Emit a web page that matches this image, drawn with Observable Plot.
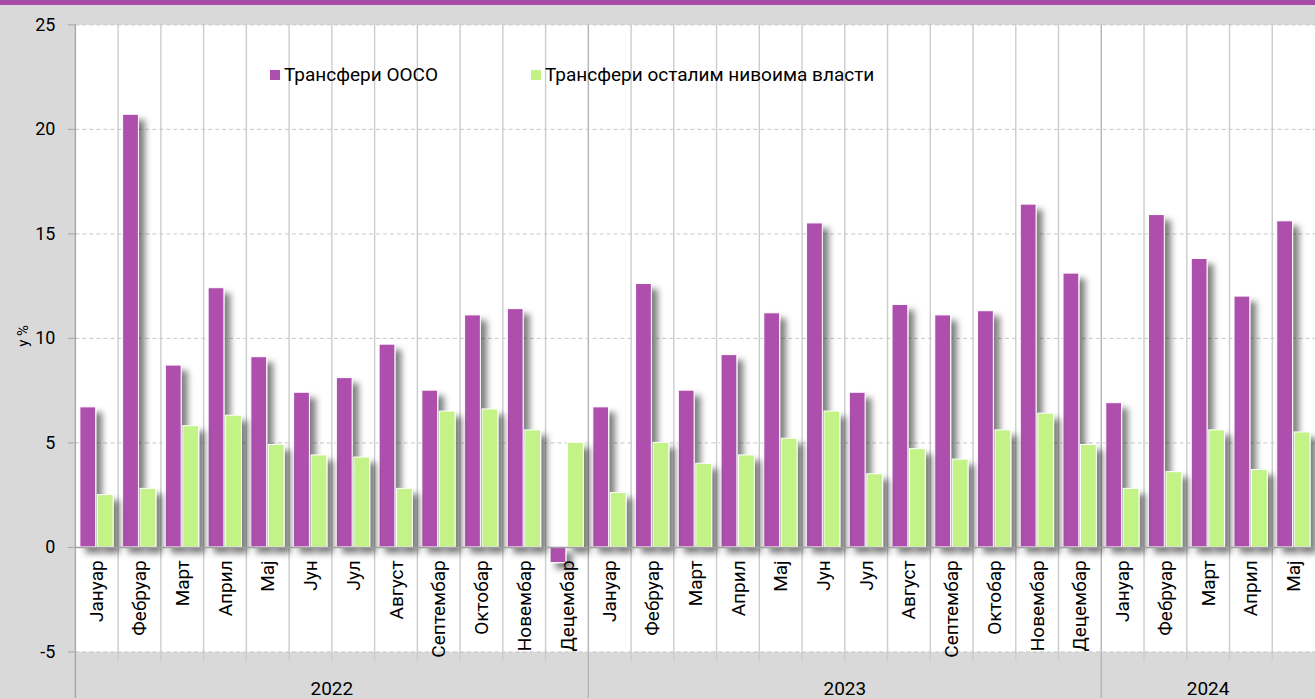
<!DOCTYPE html>
<html>
<head>
<meta charset="utf-8">
<script src="https://cdn.jsdelivr.net/npm/d3@7"></script>
<script src="https://cdn.jsdelivr.net/npm/@observablehq/plot@0.6"></script>
<style>
  html, body { margin: 0; padding: 0; background: #d9d9d9; overflow: hidden; width: 1315px; height: 699px; }
  #wrap { position: relative; width: 1315px; height: 699px; overflow: hidden; }
  #topband { position: absolute; left: 0; top: 0; width: 1315px; height: 5px; background: #a64ca6; z-index: 3; }
  #chart { position: absolute; left: 0; top: 0; }
  .legend { position: absolute; top: 63px; font-family: Roboto, sans-serif; font-size: 19px; color: #000; display: flex; align-items: center; white-space: nowrap; z-index: 2; }
  .legend .sw { width: 10px; height: 10px; margin-right: 4px; display: inline-block; }
  svg g[aria-label^="y-axis"] line, svg g[aria-label="y-axis tick"] path { stroke: #a6a6a6; }
</style>
</head>
<body>
<div id="wrap">
  <div id="topband"></div>
  <div id="chart"></div>
  <div class="legend" style="left:270px"><span class="sw" style="background:#ae4fae"></span><span id="lg1"></span></div>
  <div class="legend" style="left:531px"><span class="sw" style="background:#c3f386"></span><span id="lg2"></span></div>
</div>
<script>
// ---- data ----
const monthNames = ["Јануар","Фебруар","Март","Април","Мај","Јун","Јул","Август","Септембар","Октобар","Новембар","Децембар"];
const years = [2022, 2023, 2024];
const monthsPerYear = [12, 12, 5];
const seriesNames = ["Трансфери ООСО", "Трансфери осталим нивоима власти"];
const transfersOOSO = [6.7, 20.7, 8.7, 12.4, 9.1, 7.4, 8.1, 9.7, 7.5, 11.1, 11.4, -0.75,
                       6.7, 12.6, 7.5, 9.2, 11.2, 15.5, 7.4, 11.6, 11.1, 11.3, 16.4, 13.1,
                       6.9, 15.9, 13.8, 12.0, 15.6];
const transfersOther = [2.5, 2.8, 5.8, 6.3, 4.9, 4.4, 4.3, 2.8, 6.5, 6.6, 5.6, 5.0,
                        2.6, 5.0, 4.0, 4.4, 5.2, 6.5, 3.5, 4.7, 4.2, 5.6, 6.4, 4.9,
                        2.8, 3.6, 5.6, 3.7, 5.5];
const yTicks = [-5, 0, 5, 10, 15, 20, 25];
const gridTicks = [-5, 5, 10, 15, 20, 25];
const yLabel = "у %";

// ---- table ----
const rows = [];
years.forEach((yr, yi) => {
  for (let m = 0; m < monthsPerYear[yi]; m++) {
    const i = rows.length;
    rows.push({key: `${yr}-${String(m + 1).padStart(2, "0")}`, year: yr, month: monthNames[m],
               ooso: transfersOOSO[i], other: transfersOther[i]});
  }
});
const keys = rows.map(d => d.key);

document.getElementById("lg1").textContent = seriesNames[0];
document.getElementById("lg2").textContent = seriesNames[1];

const W = 1317, H = 699;
const chart = Plot.plot({
  width: W, height: H,
  marginLeft: 75.5, marginRight: 0, marginTop: 24.4, marginBottom: 46.6,
  style: {background: "transparent", fontFamily: "Roboto, sans-serif", fontSize: "18px", color: "#000", overflow: "visible"},
  x: {type: "band", domain: keys, padding: 0, round: false, axis: null},
  y: {domain: [-5, 25], ticks: yTicks, tickFormat: d => String(d), tickSize: 7.5, tickPadding: 13, label: null},
  marks: [
    Plot.frame({fill: "white", stroke: "none"}),
    Plot.ruleY(gridTicks, {stroke: "#c8c8c8", strokeDasharray: "4,3", strokeWidth: 1}),
    Plot.barY(rows, {x: "key", y: "ooso", fill: "#ae4fae", stroke: "white", strokeWidth: 1, insetLeft: 4.5, insetRight: 22.5}),
    Plot.barY(rows, {x: "key", y: "other", fill: "#c3f386", stroke: "white", strokeWidth: 1, insetLeft: 22, insetRight: 5}),
    Plot.ruleY([0], {stroke: "#a0a0a0", strokeWidth: 1.5}),
    Plot.text(rows, {x: "key", y: () => 0, text: "month", rotate: -90, textAnchor: "end", dy: 13, fontSize: 19, fill: "#000"})
  ]
});
document.getElementById("chart").appendChild(chart);

// ---- decorations using the plot's scales ----
const svg = d3.select(chart);
const xs = chart.scale("x"), ys = chart.scale("y");
const bw = xs.bandwidth;
const yTop = ys.apply(25), yBot = ys.apply(-5);

// shadow filter on bars
const defs = svg.insert("defs", ":first-child");
const f = defs.append("filter").attr("id", "barShadow").attr("filterUnits", "userSpaceOnUse")
  .attr("x", 0).attr("y", 0).attr("width", W).attr("height", H);
f.append("feDropShadow").attr("dx", 6).attr("dy", 6).attr("stdDeviation", 3.2)
  .attr("flood-color", "#000").attr("flood-opacity", 0.5);
svg.selectAll('g[aria-label="bar"]').attr("filter", "url(#barShadow)");

// vertical grid lines at band boundaries
const frameEl = chart.querySelector('[aria-label="frame"]');
const vg = d3.create("svg:g").attr("aria-label", "vgrid");
keys.forEach((k, i) => {
  if (i === 0) return;
  const x = xs.apply(k);
  const isYear = k.endsWith("-01");
  vg.append("line").attr("x1", x).attr("x2", x).attr("y1", yTop)
    .attr("y2", isYear ? H : yBot + 10)
    .attr("stroke", isYear ? "#b4b4b4" : "#cccccc").attr("stroke-width", 1.4);
});
if (frameEl) frameEl.after(vg.node()); else svg.node().appendChild(vg.node());

// left axis line
const x0 = xs.apply(keys[0]);
svg.append("line").attr("x1", x0).attr("x2", x0).attr("y1", yTop).attr("y2", H)
  .attr("stroke", "#a6a6a6").attr("stroke-width", 1.4);

// year labels centered under their months
years.forEach(yr => {
  const ks = rows.filter(d => d.year === yr).map(d => d.key);
  const cx = (xs.apply(ks[0]) + xs.apply(ks[ks.length - 1]) + bw) / 2;
  svg.append("text").attr("x", cx).attr("y", 696).attr("text-anchor", "middle")
    .attr("font-size", 19).attr("fill", "#000").text(yr);
});

// y label
svg.append("text").attr("transform", `translate(28,${(yTop + yBot) / 2 - 2}) rotate(-90)`)
  .attr("text-anchor", "middle").attr("font-size", 15).attr("fill", "#000").text(yLabel);
</script>
</body>
</html>
